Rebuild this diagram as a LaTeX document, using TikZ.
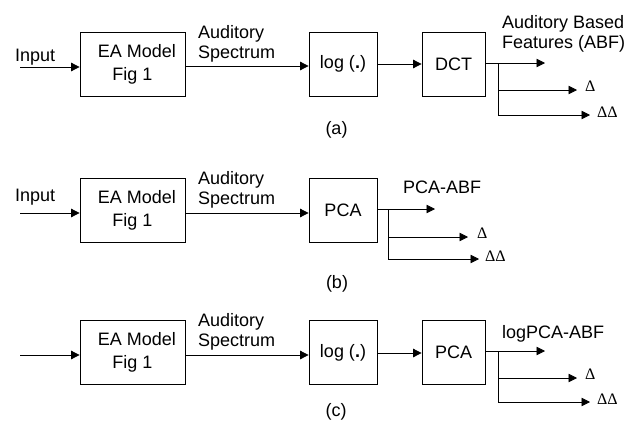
\documentclass[tikz,border=0pt]{standalone}
\usepackage{fontspec}
\setmainfont{Liberation Sans}
\newfontfamily\deltafont{Liberation Serif}
\usetikzlibrary{arrows.meta}
\begin{document}
\begin{tikzpicture}[x=1pt,y=-1pt,
  every node/.style={inner sep=0pt,font=\fontsize{18}{20}\selectfont},
  blockbox/.style={draw,line width=0.8pt,inner sep=0pt},
  eabox/.style={blockbox,minimum width=105pt,minimum height=64pt,align=center,
    font=\fontsize{18}{23}\selectfont},
  opbox/.style={blockbox,minimum width=68pt,minimum height=64pt},
  dctbox/.style={blockbox,minimum width=63pt,minimum height=64pt},
  arr/.style={line width=0.8pt,-{Triangle[length=8.5pt,width=8.5pt]}},
  branch/.style={line width=0.8pt},
  lbl/.style={align=left},
  dlbl/.style={font=\deltafont\fontsize{16}{16}\selectfont,anchor=base west},
  caption/.style={}
]
\useasboundingbox (0,0) rectangle (637,423);

% ---------- (a) ----------
\node[anchor=base west] (inputA) at (15,61) {Input};
\coordinate (inA) at (20,67);
\node[eabox] (eaA) at (132.5,64) {\hspace*{9pt}EA Model\\Fig 1};
\node[lbl,anchor=north west] (specA) at (198,25) {Auditory\\Spectrum};
\node[opbox] (logA) at (343,64) {log (\textbf{.})};
\node[dctbox] (dctA) at (453.5,64) {DCT};
\node[lbl,anchor=north west] (abfA) at (502,15) {Auditory Based\\Features (ABF)};
\coordinate (outA) at (545,63);
\coordinate (brA) at (498,63);
\coordinate (dA) at (577,90);
\coordinate (ddA) at (590,115);
\node[dlbl] (dAl) at (585,91) {Δ};
\node[dlbl] (ddAl) at (597,117) {ΔΔ};
\node[caption] (capA) at (336.5,130) {(a)};

\draw[arr] (inA) -- (inA -| eaA.west);
\draw[arr] (eaA.east |- 0,66) -- (logA.west |- 0,66);
\draw[arr] (logA.east) -- (dctA.west);
\draw[arr] (dctA.east |- outA) -- (outA);
\draw[branch] (brA) -- (brA |- ddA);
\draw[arr] (brA |- dA) -- (dA);
\draw[arr] (brA |- ddA) -- (ddA);

% ---------- (b) ----------
\node[anchor=base west] (inputB) at (15,201) {Input};
\coordinate (inB) at (20,213);
\node[eabox] (eaB) at (132.5,210) {\hspace*{9pt}EA Model\\Fig 1};
\node[lbl,anchor=north west] (specB) at (198,171) {Auditory\\Spectrum};
\node[opbox] (pcaB) at (343,210) {PCA};
\node[anchor=base west] (abfB) at (403,193) {PCA-ABF};
\coordinate (outB) at (435,209);
\coordinate (brB) at (388,209);
\coordinate (dB) at (468,237);
\coordinate (ddB) at (479,259);
\node[dlbl] (dBl) at (477,238) {Δ};
\node[dlbl] (ddBl) at (485,261) {ΔΔ};
\node[caption] (capB) at (337,284) {(b)};

\draw[arr] (inB) -- (inB -| eaB.west);
\draw[arr] (eaB.east |- inB) -- (pcaB.west |- inB);
\draw[arr] (pcaB.east |- outB) -- (outB);
\draw[branch] (brB) -- (brB |- ddB);
\draw[arr] (brB |- dB) -- (dB);
\draw[arr] (brB |- ddB) -- (ddB);

% ---------- (c) ----------
\coordinate (inC) at (20,355);
\node[eabox] (eaC) at (132.5,352.5) {\hspace*{9pt}EA Model\\Fig 1};
\node[lbl,anchor=north west] (specC) at (198,313) {Auditory\\Spectrum};
\node[opbox] (logC) at (343,352.5) {log (\textbf{.})};
\node[dctbox] (pcaC) at (453.5,352.5) {PCA};
\node[anchor=base west] (abfC) at (502,338) {logPCA-ABF};
\coordinate (outC) at (545,351);
\coordinate (brC) at (498,351);
\coordinate (dC) at (577,378);
\coordinate (ddC) at (590,402);
\node[dlbl] (dCl) at (585,379) {Δ};
\node[dlbl] (ddCl) at (597,404) {ΔΔ};
\node[caption] (capC) at (336,412) {(c)};

\draw[arr] (inC) -- (inC -| eaC.west);
\draw[arr] (eaC.east |- inC) -- (logC.west |- inC);
\draw[arr] (logC.east |- 0,353) -- (pcaC.west |- 0,353);
\draw[arr] (pcaC.east |- outC) -- (outC);
\draw[branch] (brC) -- (brC |- ddC);
\draw[arr] (brC |- dC) -- (dC);
\draw[arr] (brC |- ddC) -- (ddC);
\end{tikzpicture}
\end{document}
